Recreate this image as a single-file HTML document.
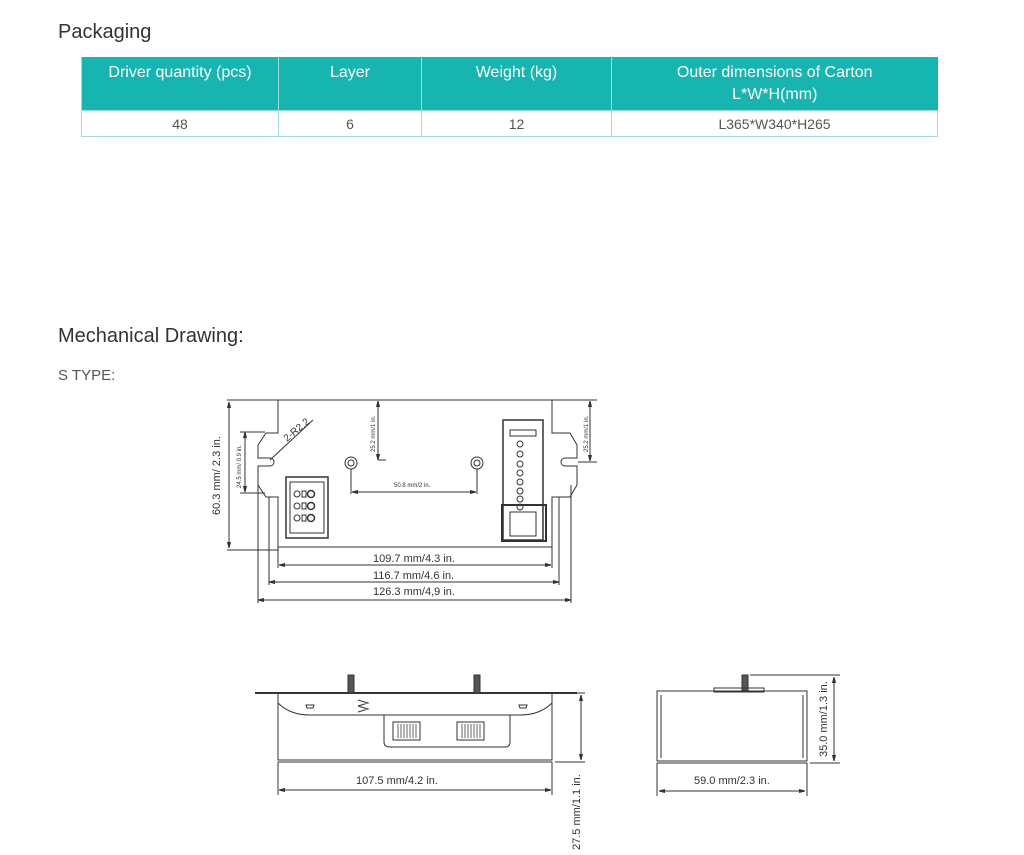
<!DOCTYPE html>
<html><head><meta charset="utf-8"><style>
body{margin:0;background:#fff;width:1024px;height:855px;overflow:hidden;font-family:"Liberation Sans",sans-serif;position:relative}
.h{position:absolute;left:58px;color:#333;font-size:20px}
table{position:absolute;left:81px;top:57px;border-collapse:collapse;width:857px;font-size:16px;color:#555}
th{background:#17b5b0;color:#fff;font-weight:normal;height:48px;vertical-align:top;padding:5px 0 0;border-left:1px solid #9fdcd9;line-height:22px}
td{height:25px;text-align:center;border:1px solid #9fdcd9;padding:0;font-size:14px}
td+td{border-left:1px solid #aaa}
</style></head><body>
<div class="h" style="top:21px">Packaging</div>
<table><tr><th style="width:196px">Driver quantity (pcs)</th><th style="width:142px">Layer</th><th style="width:189px">Weight (kg)</th><th>Outer dimensions of Carton<br>L*W*H(mm)</th></tr>
<tr><td>48</td><td>6</td><td>12</td><td>L365*W340*H265</td></tr></table>
<div class="h" style="top:325px">Mechanical Drawing:</div>
<div class="h" style="top:367px;font-size:15px;color:#555">S TYPE:</div>
<svg width="1024" height="855" style="position:absolute;left:0;top:0" fill="none" stroke="#333" stroke-width="1" font-family="Liberation Sans Narrow,Liberation Sans,sans-serif">
<defs><marker id="a" markerWidth="6" markerHeight="6" refX="6" refY="3" orient="auto-start-reverse"><path d="M0,1.5L6,3L0,4.5z" fill="#333"/></marker></defs>
<path d="M278,400H552V433L570,433L577,445V458H565A4,4 0 0 0 565,466H577V485L570,497L552,497V547H278V497L266,497L258,485V466H270A4,4 0 0 0 270,458H258V445L266,433L278,433Z"/>
<line x1="227" y1="400" x2="278" y2="400"/><line x1="552" y1="400" x2="597" y2="400"/>
<line x1="227" y1="550" x2="278" y2="550"/>
<line x1="229" y1="402" x2="229" y2="548" marker-start="url(#a)" marker-end="url(#a)"/>
<text x="0" y="0" transform="translate(220,515) rotate(-90)" font-size="11" fill="#333" stroke="none">60.3 mm/ 2.3 in.</text>
<line x1="245" y1="432" x2="245" y2="492" marker-start="url(#a)" marker-end="url(#a)"/>
<line x1="240" y1="432" x2="265" y2="432"/><line x1="240" y1="493" x2="265" y2="493"/>
<text transform="translate(241,488) rotate(-90)" font-size="6" fill="#333" stroke="none">24.5 mm/ 0.9 in.</text>
<line x1="270" y1="460" x2="313" y2="420"/>
<text transform="translate(287,442) rotate(-40)" font-size="10" fill="#333" stroke="none">2-R2.2</text>
<line x1="378" y1="401" x2="378" y2="460" marker-start="url(#a)" marker-end="url(#a)"/>
<line x1="378" y1="460" x2="386" y2="460"/>
<text transform="translate(375,452) rotate(-90)" font-size="6" fill="#333" stroke="none">25.2 mm/1 in.</text>
<line x1="590" y1="401" x2="590" y2="461" marker-start="url(#a)" marker-end="url(#a)"/><line x1="578" y1="462" x2="597" y2="462"/>
<text transform="translate(588,452) rotate(-90)" font-size="6" fill="#333" stroke="none">25.2 mm/1 in.</text>
<circle cx="351" cy="463" r="6"/><circle cx="351" cy="463" r="3"/><circle cx="477" cy="463" r="6"/><circle cx="477" cy="463" r="3"/>
<line x1="351" y1="469" x2="351" y2="494"/><line x1="477" y1="469" x2="477" y2="494"/>
<line x1="352" y1="492" x2="476" y2="492" marker-start="url(#a)" marker-end="url(#a)"/>
<text x="394" y="487" font-size="6" fill="#333" stroke="none">50.8 mm/2 in.</text>
<rect x="286" y="477" width="42" height="61" stroke-width="1.5"/><rect x="290" y="482" width="34" height="51"/>
<g fill="#fff"><circle cx="297" cy="494" r="3"/><circle cx="297" cy="506" r="3"/><circle cx="297" cy="518" r="3"/><rect x="302" y="491" width="4" height="6"/><rect x="302" y="503" width="4" height="6"/><rect x="302" y="515" width="4" height="6"/><circle cx="311" cy="494" r="3.5" stroke-width="1.5"/><circle cx="311" cy="506" r="3.5" stroke-width="1.5"/><circle cx="311" cy="518" r="3.5" stroke-width="1.5"/></g>
<rect x="503" y="420" width="40" height="120" stroke-width="1.5"/><rect x="510" y="430" width="26" height="6"/>
<g fill="#fff"><circle cx="520" cy="444" r="3"/><circle cx="520" cy="454" r="3"/><circle cx="520" cy="464" r="3"/><circle cx="520" cy="473" r="3"/><circle cx="520" cy="482" r="3"/><circle cx="520" cy="491" r="3"/><circle cx="520" cy="499" r="3"/><circle cx="520" cy="507" r="3"/></g>
<rect x="502" y="505" width="44" height="36" stroke-width="2"/><rect x="510" y="512" width="26" height="24"/>
<line x1="279" y1="565" x2="551" y2="565" marker-start="url(#a)" marker-end="url(#a)"/>
<text x="373" y="562" font-size="11" fill="#333" stroke="none">109.7 mm/4.3 in.</text>
<line x1="269" y1="582" x2="559" y2="582" marker-start="url(#a)" marker-end="url(#a)"/>
<text x="373" y="579" font-size="11" fill="#333" stroke="none">116.7 mm/4.6 in.</text>
<line x1="258" y1="600" x2="571" y2="600" marker-start="url(#a)" marker-end="url(#a)"/>
<text x="373" y="595" font-size="11" fill="#333" stroke="none">126.3 mm/4,9 in.</text>
<line x1="269" y1="497" x2="269" y2="585"/><line x1="559" y1="497" x2="559" y2="585"/><line x1="258" y1="485" x2="258" y2="603"/><line x1="571" y1="485" x2="571" y2="603"/>
<line x1="278" y1="547" x2="278" y2="568"/><line x1="552" y1="547" x2="552" y2="568"/>
<line x1="255" y1="693" x2="577" y2="693" stroke-width="2"/>
<path d="M278,693V760H552V693"/><line x1="278" y1="762" x2="552" y2="762"/>
<path d="M278,703Q290,715 310,715H520Q540,715 552,703"/>
<rect x="348" y="675" width="6" height="18" fill="#555"/><rect x="474" y="675" width="6" height="18" fill="#555"/>
<path d="M384,715V742Q384,747 390,747H505Q510,747 510,742V715"/>
<rect x="393" y="722" width="27" height="18"/><rect x="457" y="722" width="27" height="18"/>
<g stroke="#666"><path d="M398,724V738M401,724V738M404,724V738M407,724V738M410,724V738M413,724V738M416,724V738M462,724V738M465,724V738M468,724V738M471,724V738M474,724V738M477,724V738M480,724V738"/></g>
<path d="M306,705h8l-1,3h-6z M519,705h8l-1,3h-6z M358,700l10,3l-10,3 M358,706l10,3l-10,3"/>
<line x1="278" y1="762" x2="278" y2="795"/><line x1="552" y1="762" x2="552" y2="795"/>
<line x1="279" y1="790" x2="551" y2="790" marker-start="url(#a)" marker-end="url(#a)"/>
<text x="356" y="784" font-size="11" fill="#333" stroke="none">107.5 mm/4.2 in.</text>
<line x1="555" y1="693" x2="585" y2="693"/><line x1="555" y1="762" x2="585" y2="762"/>
<line x1="581" y1="695" x2="581" y2="760" marker-start="url(#a)" marker-end="url(#a)"/>
<text transform="translate(580,850) rotate(-90)" font-size="11" fill="#333" stroke="none">27.5 mm/1.1 in.</text>
<path d="M657,691H807V761H657Z"/><line x1="657" y1="763" x2="807" y2="763"/>
<path d="M661,695V758M803,695V758"/>
<rect x="742" y="675" width="6" height="16" fill="#555"/>
<rect x="714" y="688" width="50" height="4"/>
<line x1="657" y1="763" x2="657" y2="796"/><line x1="807" y1="763" x2="807" y2="796"/>
<line x1="659" y1="791" x2="805" y2="791" marker-start="url(#a)" marker-end="url(#a)"/>
<text x="694" y="784" font-size="11" fill="#333" stroke="none">59.0 mm/2.3 in.</text>
<line x1="750" y1="675" x2="840" y2="675"/><line x1="810" y1="763" x2="840" y2="763"/>
<line x1="834" y1="677" x2="834" y2="761" marker-start="url(#a)" marker-end="url(#a)"/>
<text transform="translate(827,757) rotate(-90)" font-size="11" fill="#333" stroke="none">35.0 mm/1.3 in.</text>
</svg>
</body></html>
